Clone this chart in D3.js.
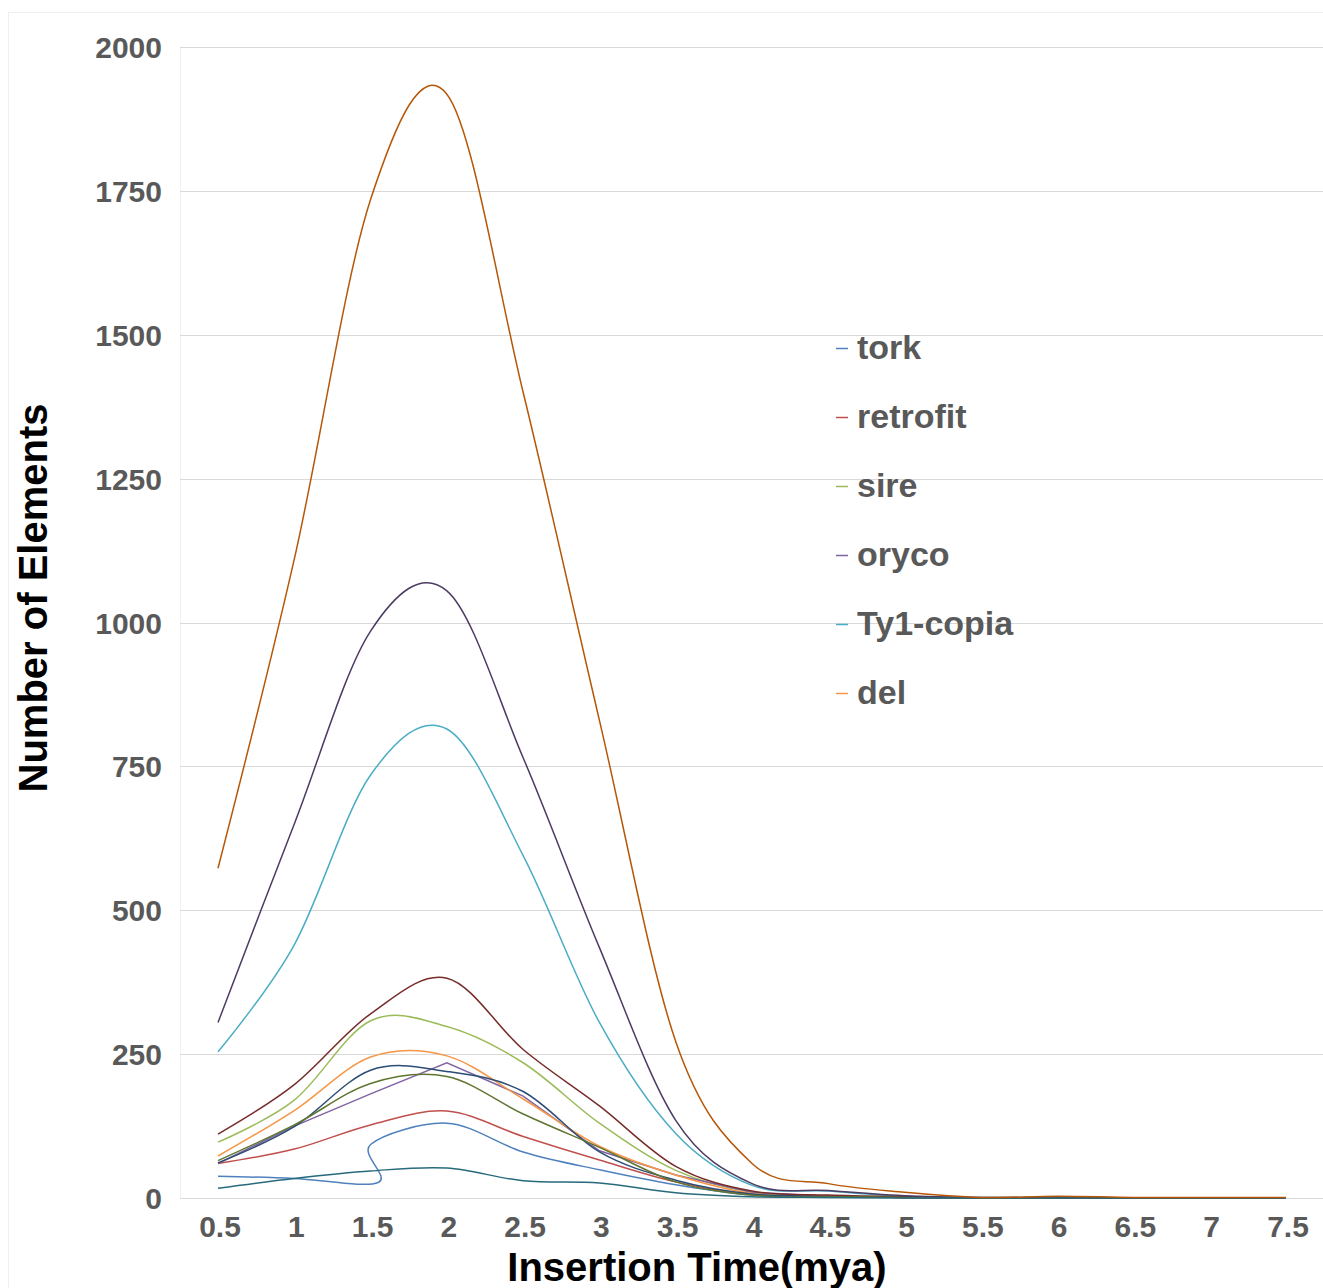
<!DOCTYPE html>
<html>
<head>
<meta charset="utf-8">
<script src="https://cdn.jsdelivr.net/npm/d3@7"></script>
<style>
  body { margin: 0; background: #fff; }
  svg { display: block; font-family: "Liberation Sans", Arial, sans-serif; }
</style>
</head>
<body>
<svg id="chart" width="1323" height="1288"></svg>
<script>
// x categories (insertion time, mya)
const times = [0.5, 1, 1.5, 2, 2.5, 3, 3.5, 4, 4.5, 5, 5.5, 6, 6.5, 7, 7.5];
const yTicks = [0, 250, 500, 750, 1000, 1250, 1500, 1750, 2000];

// series values
const tork      = [38, 34, 27, 93, 130, 80, 49, 23, 5, 2, 1, 0, 0, 0, 0, 0];
const torkTimes = [0.5, 1, 1.55, 1.5, 2, 2.5, 3, 3.5, 4, 4.5, 5, 5.5, 6, 6.5, 7, 7.5]; // x goes back once, gives the loop
const retrofit  = [60, 85, 127, 151, 107, 66, 28, 6, 3, 1, 0, 0, 0, 0, 0];
const sire      = [97, 170, 308, 298, 235, 130, 48, 10, 4, 2, 0, 0, 0, 0, 0];
const oryco     = [60, 125, 181, 235, 177, 82, 40, 10, 3, 1, 0, 0, 0, 0, 0];
const ty1copia  = [254, 440, 735, 815, 595, 305, 112, 22, 12, 3, 1, 1, 0, 0, 0];
const del       = [73, 152, 245, 247, 172, 90, 40, 8, 3, 1, 0, 0, 0, 0, 0];
const s7        = [61, 124, 222, 220, 185, 80, 31, 7, 3, 1, 0, 0, 0, 0, 0];
const s8        = [111, 197, 320, 382, 258, 160, 55, 12, 5, 2, 0, 0, 0, 0, 0];
const s9        = [65, 127, 199, 211, 146, 88, 28, 5, 2, 1, 0, 0, 0, 0, 0];
const s10       = [305, 650, 985, 1055, 765, 435, 135, 25, 13, 4, 1, 1, 0, 0, 0];
const s11       = [17, 34, 47, 52, 30, 26, 9, 2, 1, 0, 0, 0, 0, 0, 0];
const s12       = [573, 1110, 1735, 1918, 1400, 830, 272, 60, 25, 10, 1, 3, 1, 1, 1];

const seriesNames  = ["tork", "retrofit", "sire", "oryco", "Ty1-copia", "del"];
const colors = ["#4F81BD", "#C0504D", "#9BBB59", "#8064A2", "#4BACC6", "#F79646",
                "#2C4D75", "#772C2A", "#5F7530", "#4D3B62", "#276A7C", "#B65708"];

const allSeries = [
  { vals: tork, xs: torkTimes, smooth: true },
  { vals: retrofit, xs: times, smooth: true },
  { vals: sire, xs: times, smooth: true },
  { vals: oryco, xs: times, smooth: false },
  { vals: ty1copia, xs: times, smooth: true },
  { vals: del, xs: times, smooth: true },
  { vals: s7, xs: times, smooth: true },
  { vals: s8, xs: times, smooth: true },
  { vals: s9, xs: times, smooth: true },
  { vals: s10, xs: times, smooth: true },
  { vals: s11, xs: times, smooth: true },
  { vals: s12, xs: times, smooth: true }
];

const svg = d3.select("#chart");
const plot = {left: 180, top: 47, right: 1323, bottom: 1198};

const x = d3.scaleLinear().domain([0.5, 7.5]).range([218, 1286]);
const y = d3.scaleLinear().domain([0, 2000]).range([plot.bottom, plot.top]);

// outer chart border and plot area border (very faint)
svg.append("rect")
  .attr("x", 8.5).attr("y", 12.5).attr("width", 1340).attr("height", 1300)
  .attr("fill", "none").attr("stroke", "#EEEEF3");
svg.append("line")
  .attr("x1", plot.left + 0.5).attr("x2", plot.left + 0.5)
  .attr("y1", plot.top).attr("y2", plot.bottom)
  .attr("stroke", "#F0F0F4");

// horizontal gridlines
svg.append("g").selectAll("line")
  .data(yTicks)
  .enter().append("line")
  .attr("x1", plot.left).attr("x2", plot.right)
  .attr("y1", d => Math.round(y(d)) + 0.5).attr("y2", d => Math.round(y(d)) + 0.5)
  .attr("stroke", "#D9D9D9").attr("stroke-width", 1);

// y tick labels
svg.append("g").selectAll("text")
  .data(yTicks)
  .enter().append("text")
  .attr("x", 162).attr("y", d => y(d) + 11)
  .attr("text-anchor", "end")
  .attr("font-size", 30).attr("font-weight", "bold").attr("fill", "#595959")
  .text(d => d);

// x tick labels
svg.append("g").selectAll("text")
  .data(times)
  .enter().append("text")
  .attr("x", d => x(d) + 2).attr("y", 1237)
  .attr("text-anchor", "middle")
  .attr("font-size", 30).attr("font-weight", "bold").attr("fill", "#595959")
  .text(d => d);

// axis titles
svg.append("text")
  .attr("x", 697).attr("y", 1281)
  .attr("text-anchor", "middle")
  .attr("font-size", 40).attr("font-weight", "bold").attr("fill", "#000")
  .text("Insertion Time(mya)");

svg.append("text")
  .attr("transform", "translate(47,598) rotate(-90)")
  .attr("text-anchor", "middle")
  .attr("font-size", 40).attr("font-weight", "bold").attr("fill", "#000")
  .text("Number of Elements");

// lines
const smoothLine = d3.line().x(d => x(d[0])).y(d => y(d[1])).curve(d3.curveCardinal.tension(0));
const straightLine = d3.line().x(d => x(d[0])).y(d => y(d[1]));

svg.append("g").selectAll("path")
  .data(allSeries)
  .enter().append("path")
  .attr("d", s => {
    const pts = s.vals.map((v, i) => [s.xs[i], v]);
    return s.smooth ? smoothLine(pts) : straightLine(pts);
  })
  .attr("fill", "none")
  .attr("stroke", (s, i) => colors[i])
  .attr("stroke-width", 1.5);

// legend (only the first six series are listed)
const legend = svg.append("g").selectAll("g")
  .data(seriesNames)
  .enter().append("g")
  .attr("transform", (d, i) => `translate(836,${348 + i * 69})`);

legend.append("line")
  .attr("x1", 0).attr("x2", 12).attr("y1", 0.5).attr("y2", 0.5)
  .attr("stroke", (d, i) => colors[i]).attr("stroke-width", 1.5);

legend.append("text")
  .attr("x", 21).attr("y", 11)
  .attr("font-size", 34).attr("font-weight", "bold").attr("fill", "#595959")
  .text(d => d);
</script>
</body>
</html>
